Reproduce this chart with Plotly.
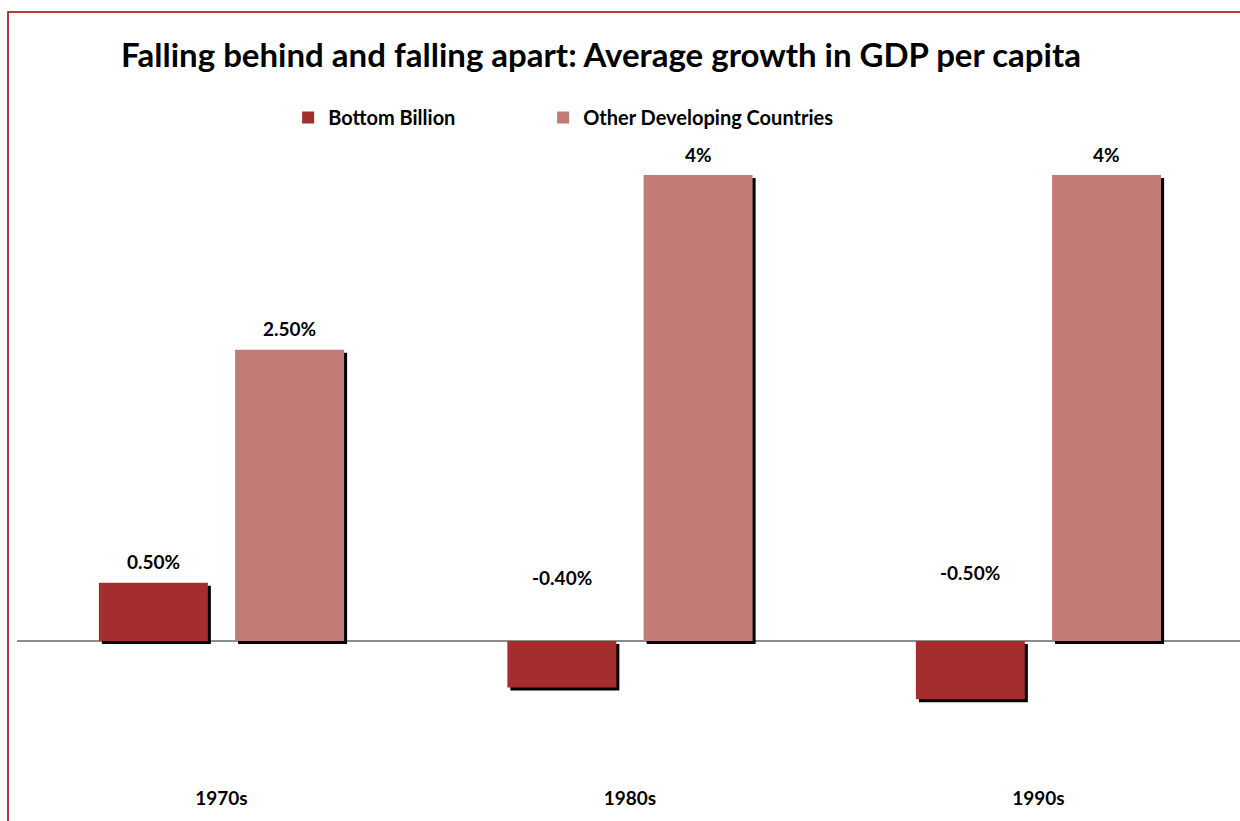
import plotly.graph_objects as go

categories = ["1970s", "1980s", "1990s"]
bottom_billion = [0.5, -0.4, -0.5]
other_developing = [2.5, 4.0, 4.0]
bb_labels = ["0.50%", "-0.40%", "-0.50%"]
odc_labels = ["2.50%", "4%", "4%"]
series_names = ["Bottom Billion", "Other Developing Countries"]

FONT = "Lato"
W, H = 1240, 821
ML, MR, MT, MB = 17, 0, 150, 36
plot_w = W - ML - MR
plot_h = H - MT - MB

# main axis ranges
xr = [-0.5006, 2.4933]
yr = [-1.2361, 4.2146]
px_per_x = plot_w / (xr[1] - xr[0])
px_per_y = plot_h / (yr[1] - yr[0])
sdx, sdy = 3, 3  # shadow offset in pixels
xr_sh = [xr[0] - sdx / px_per_x, xr[1] - sdx / px_per_x]
yr_sh = [yr[0] + sdy / px_per_y, yr[1] + sdy / px_per_y]

c_bb = "#A42E2E"
c_odc = "#C27A77"

fig = go.Figure()
# shadows (base axes)
for vals in (bottom_billion, other_developing):
    fig.add_trace(go.Bar(x=categories, y=vals, marker=dict(color="black", line_width=0),
                         showlegend=False, hoverinfo="skip", xaxis="x", yaxis="y"))
# main bars
fig.add_trace(go.Bar(x=categories, y=bottom_billion, name=series_names[0],
                     marker=dict(color=c_bb, line_width=0), xaxis="x2", yaxis="y2",
                     legend="legend"))
fig.add_trace(go.Bar(x=categories, y=other_developing, name=series_names[1],
                     marker=dict(color=c_odc, line_width=0), xaxis="x2", yaxis="y2",
                     legend="legend2"))

# data labels
slot = (1 - 0.333) / 2
for vals, labels, sign in ((bottom_billion, bb_labels, -1), (other_developing, odc_labels, 1)):
    for cat_i, (v, t) in enumerate(zip(vals, labels)):
        if v >= 0:
            y, ys = v, 21
        else:
            y, ys = 0, 40 + 58 * abs(v)
        fig.add_annotation(x=cat_i + sign * slot / 2, y=y, xref="x2", yref="y2", text=t,
                           showarrow=False, yshift=ys, yanchor="middle",
                           font=dict(family=FONT, size=19, color="black", weight="bold"))

leg_font = dict(family=FONT, size=20, color="black", weight="bold")
fig.update_layout(
    width=W, height=H,
    margin=dict(l=ML, r=MR, t=MT, b=MB),
    paper_bgcolor="white", plot_bgcolor="white",
    barmode="group", bargap=0.333, bargroupgap=0.2,
    title=dict(text="<b>Falling behind and falling apart: Average growth in GDP per capita</b>",
               x=0.4847, xanchor="center", y=0.933, yanchor="middle",
               font=dict(family=FONT, size=33, color="black")),
    legend=dict(orientation="h", x=0.2217, xanchor="left", y=1.082, yanchor="top",
                font=leg_font, bgcolor="rgba(0,0,0,0)"),
    legend2=dict(orientation="h", x=0.4302, xanchor="left", y=1.082, yanchor="top",
                 font=leg_font, bgcolor="rgba(0,0,0,0)"),
    xaxis=dict(range=xr_sh, visible=False, fixedrange=True),
    yaxis=dict(range=yr_sh, visible=False, fixedrange=True),
    xaxis2=dict(overlaying="x", range=xr, showgrid=False, showline=False, ticks="",
                tickfont=dict(family=FONT, size=19, color="black", weight="bold"),
                anchor="y2"),
    yaxis2=dict(overlaying="y", range=yr, showgrid=False, showticklabels=False, ticks="",
                zeroline=True, zerolinecolor="#8C8C8C", zerolinewidth=1.5, anchor="x2"),
    showlegend=True,
)
fig.add_shape(type="rect", xref="paper", yref="paper",
              x0=(8 - ML) / plot_w, x1=1.05,
              y0=-0.2, y1=(H - MB - 12) / plot_h,
              line=dict(color="#990000", width=1.5), fillcolor="rgba(0,0,0,0)", layer="above")

fig.write_html("out.html")
